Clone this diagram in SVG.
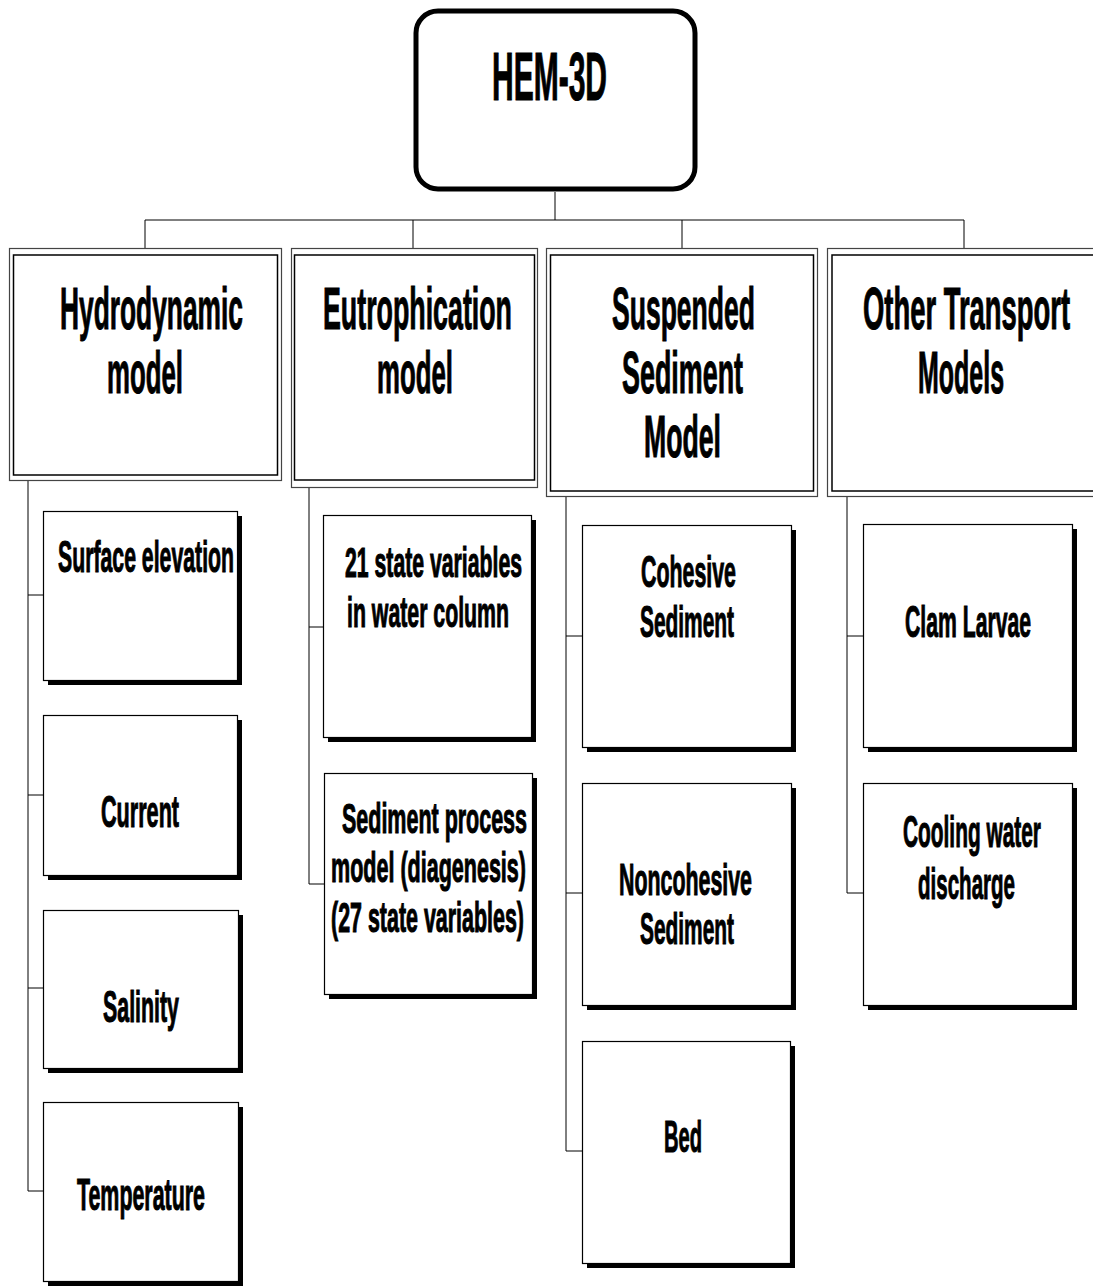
<svg xmlns="http://www.w3.org/2000/svg" width="1093" height="1286" viewBox="0 0 1093 1286">
<style>
.t{font-family:"Liberation Sans",Arial,sans-serif;font-weight:bold;fill:#000;stroke:#000;stroke-width:1.1;text-anchor:start}
.root{font-size:68px}
.l2{font-size:60px}
.lf{font-size:45px}
.le{font-size:42px}
.o{fill:#fff;stroke:#444;stroke-width:1.2}
.i{fill:none;stroke:#000;stroke-width:1.5}
.box{fill:#fff;stroke:#000;stroke-width:1.2}
.sh{fill:#000}
.c{fill:none;stroke:#000;stroke-width:1}
</style>
<rect width="1093" height="1286" fill="#fff"/>
<g id="connectors">
<path class="c" d="M555 192V220M145 220H964M145 220V248M413 220V248M682 220V248M964 220V248"/>
<path class="c" d="M28 481V1191M28 595H43M28 795H43M28 988H43M28 1191H43"/>
<path class="c" d="M309 488V884M309 627H323M309 884H324"/>
<path class="c" d="M566 497V1151M566 636H582M566 893H582M566 1151H582"/>
<path class="c" d="M847 497V893M847 636H863M847 893H863"/>
</g>
<g id="hem3d">
<rect x="416" y="11" width="279" height="178" rx="22" ry="22" fill="#fff" stroke="#000" stroke-width="5"/>
<text class="t root" transform="translate(492,100) scale(0.44,1)" textLength="261.4" lengthAdjust="spacingAndGlyphs">HEM-3D</text>
</g>
<g id="hydrodynamic">
<rect class="o" x="9.5" y="248.5" width="272" height="232"/>
<rect class="i" x="13.5" y="255" width="264" height="220"/>
<text class="t l2" transform="translate(60,329) scale(0.44,1)" textLength="415.9" lengthAdjust="spacingAndGlyphs">Hydrodynamic</text>
<text class="t l2" transform="translate(107,393) scale(0.44,1)" textLength="172.7" lengthAdjust="spacingAndGlyphs">model</text>
</g>
<g id="eutrophication">
<rect class="o" x="291.5" y="248.5" width="246" height="239"/>
<rect class="i" x="294.5" y="255" width="240" height="225"/>
<text class="t l2" transform="translate(323,329) scale(0.44,1)" textLength="429.5" lengthAdjust="spacingAndGlyphs">Eutrophication</text>
<text class="t l2" transform="translate(377,393) scale(0.44,1)" textLength="172.7" lengthAdjust="spacingAndGlyphs">model</text>
</g>
<g id="suspended">
<rect class="o" x="546.5" y="248.5" width="271" height="248"/>
<rect class="i" x="550.5" y="255" width="263" height="236"/>
<text class="t l2" transform="translate(612,329) scale(0.44,1)" textLength="325" lengthAdjust="spacingAndGlyphs">Suspended</text>
<text class="t l2" transform="translate(622,393) scale(0.44,1)" textLength="275" lengthAdjust="spacingAndGlyphs">Sediment</text>
<text class="t l2" transform="translate(644,457) scale(0.44,1)" textLength="175" lengthAdjust="spacingAndGlyphs">Model</text>
</g>
<g id="other">
<rect class="o" x="827.5" y="248.5" width="280" height="248"/>
<rect class="i" x="832" y="255" width="270" height="236"/>
<text class="t l2" transform="translate(863,329) scale(0.44,1)" textLength="470.5" lengthAdjust="spacingAndGlyphs">Other Transport</text>
<text class="t l2" transform="translate(918,393) scale(0.44,1)" textLength="195.5" lengthAdjust="spacingAndGlyphs">Models</text>
</g>
<g id="surface">
<rect class="sh" x="48" y="516" width="194" height="169"/>
<rect class="box" x="43.5" y="511.5" width="194" height="169"/>
<text class="t lf" transform="translate(58,572) scale(0.47,1)" textLength="374.5" lengthAdjust="spacingAndGlyphs">Surface elevation</text>
</g>
<g id="current">
<rect class="sh" x="48" y="720" width="194" height="160"/>
<rect class="box" x="43.5" y="715.5" width="194" height="160"/>
<text class="t lf" transform="translate(101,827) scale(0.47,1)" textLength="166" lengthAdjust="spacingAndGlyphs">Current</text>
</g>
<g id="salinity">
<rect class="sh" x="48" y="915" width="195" height="158"/>
<rect class="box" x="43.5" y="910.5" width="195" height="158"/>
<text class="t lf" transform="translate(103,1022) scale(0.47,1)" textLength="161.7" lengthAdjust="spacingAndGlyphs">Salinity</text>
</g>
<g id="temperature">
<rect class="sh" x="48" y="1107" width="195" height="179"/>
<rect class="box" x="43.5" y="1102.5" width="195" height="179"/>
<text class="t lf" transform="translate(77,1210) scale(0.47,1)" textLength="272.3" lengthAdjust="spacingAndGlyphs">Temperature</text>
</g>
<g id="statevars">
<rect class="sh" x="328" y="520" width="208" height="222"/>
<rect class="box" x="323.5" y="515.5" width="208" height="222"/>
<text class="t le" transform="translate(345,577) scale(0.5,1)" textLength="354" lengthAdjust="spacingAndGlyphs">21 state variables</text>
<text class="t le" transform="translate(347,627) scale(0.5,1)" textLength="324" lengthAdjust="spacingAndGlyphs">in water column</text>
</g>
<g id="sedprocess">
<rect class="sh" x="329" y="778" width="208" height="221"/>
<rect class="box" x="324.5" y="773.5" width="208" height="221"/>
<text class="t le" transform="translate(342,833) scale(0.5,1)" textLength="370" lengthAdjust="spacingAndGlyphs">Sediment process</text>
<text class="t le" transform="translate(331,882) scale(0.5,1)" textLength="390" lengthAdjust="spacingAndGlyphs">model (diagenesis)</text>
<text class="t le" transform="translate(331,932) scale(0.5,1)" textLength="386" lengthAdjust="spacingAndGlyphs">(27 state variables)</text>
</g>
<g id="cohesive">
<rect class="sh" x="587" y="530" width="209" height="222"/>
<rect class="box" x="582.5" y="525.5" width="209" height="222"/>
<text class="t lf" transform="translate(641,587) scale(0.47,1)" textLength="202.1" lengthAdjust="spacingAndGlyphs">Cohesive</text>
<text class="t lf" transform="translate(640,637) scale(0.47,1)" textLength="200" lengthAdjust="spacingAndGlyphs">Sediment</text>
</g>
<g id="noncohesive">
<rect class="sh" x="587" y="788" width="209" height="222"/>
<rect class="box" x="582.5" y="783.5" width="209" height="222"/>
<text class="t lf" transform="translate(619,895) scale(0.47,1)" textLength="283" lengthAdjust="spacingAndGlyphs">Noncohesive</text>
<text class="t lf" transform="translate(640,944) scale(0.47,1)" textLength="200" lengthAdjust="spacingAndGlyphs">Sediment</text>
</g>
<g id="bed">
<rect class="sh" x="587" y="1046" width="208" height="222"/>
<rect class="box" x="582.5" y="1041.5" width="208" height="222"/>
<text class="t lf" transform="translate(664,1152) scale(0.47,1)" textLength="80.9" lengthAdjust="spacingAndGlyphs">Bed</text>
</g>
<g id="clam">
<rect class="sh" x="868" y="529" width="209" height="223"/>
<rect class="box" x="863.5" y="524.5" width="209" height="223"/>
<text class="t lf" transform="translate(905,637) scale(0.47,1)" textLength="268.1" lengthAdjust="spacingAndGlyphs">Clam Larvae</text>
</g>
<g id="cooling">
<rect class="sh" x="868" y="788" width="209" height="222"/>
<rect class="box" x="863.5" y="783.5" width="209" height="222"/>
<text class="t lf" transform="translate(903,847) scale(0.47,1)" textLength="293.6" lengthAdjust="spacingAndGlyphs">Cooling water</text>
<text class="t lf" transform="translate(918,899) scale(0.47,1)" textLength="206.4" lengthAdjust="spacingAndGlyphs">discharge</text>
</g>
</svg>
